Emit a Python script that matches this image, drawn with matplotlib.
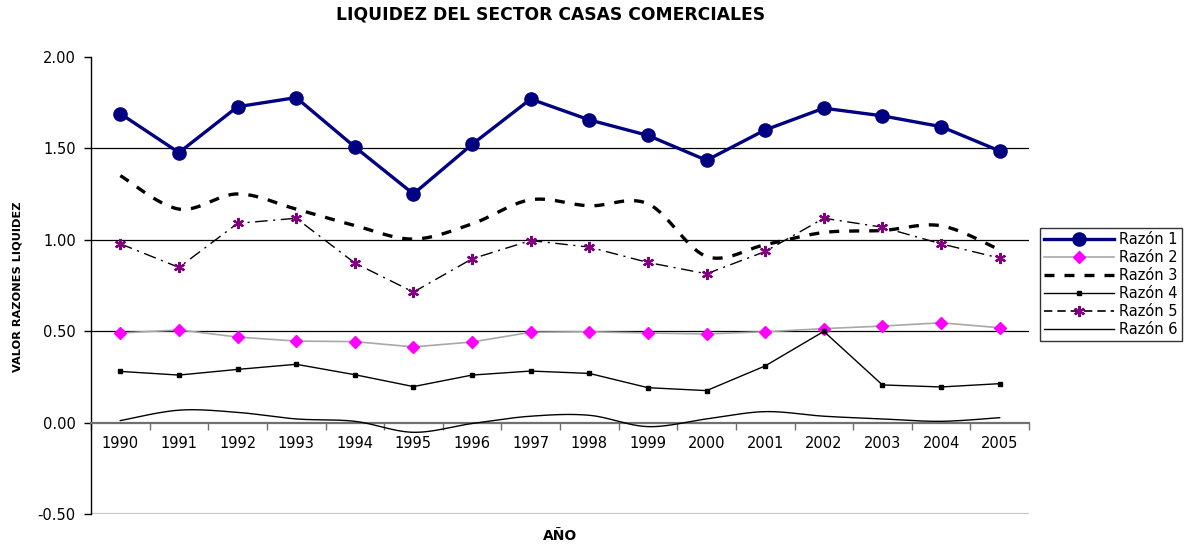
import numpy as np
import matplotlib
matplotlib.use("Agg")
import matplotlib.pyplot as plt

plt.rcParams['font.family'] = ['DejaVu Sans']

years = ["1990", "1991", "1992", "1993", "1994", "1995", "1996", "1997",
         "1998", "1999", "2000", "2001", "2002", "2003", "2004", "2005"]
razon1 = [1.69, 1.477, 1.728, 1.778, 1.508, 1.251, 1.522, 1.770,
          1.656, 1.571, 1.435, 1.601, 1.720, 1.678, 1.619, 1.486]
razon2 = [0.490, 0.507, 0.468, 0.446, 0.443, 0.414, 0.441, 0.494,
          0.497, 0.490, 0.485, 0.497, 0.514, 0.528, 0.546, 0.519]
razon3 = [1.351, 1.168, 1.251, 1.168, 1.078, 1.004, 1.087, 1.219,
          1.186, 1.197, 0.909, 0.973, 1.040, 1.051, 1.077, 0.945]
razon4 = [0.280, 0.260, 0.291, 0.319, 0.262, 0.197, 0.260, 0.282,
          0.269, 0.191, 0.175, 0.310, 0.499, 0.206, 0.195, 0.213]
razon5 = [0.978, 0.849, 1.090, 1.118, 0.873, 0.714, 0.896, 0.996,
          0.960, 0.876, 0.814, 0.936, 1.118, 1.069, 0.978, 0.900]
razon6 = [0.011, 0.068, 0.056, 0.020, 0.007, -0.053, -0.005, 0.035,
          0.040, -0.022, 0.020, 0.060, 0.035, 0.020, 0.007, 0.027]
series_names = ["Razón 1", "Razón 2", "Razón 3", "Razón 4", "Razón 5", "Razón 6"]


def smooth(xs, ys, n=30):
    xs = np.asarray(xs, float)
    ys = np.asarray(ys, float)
    P = np.column_stack([xs, ys])
    out = []
    for i in range(len(P) - 1):
        p0 = P[i - 1] if i > 0 else P[i]
        p1 = P[i]
        p2 = P[i + 1]
        p3 = P[i + 2] if i + 2 < len(P) else P[i + 1]
        c1 = p1 + (p2 - p0) / 6.0
        c2 = p2 - (p3 - p1) / 6.0
        t = np.linspace(0, 1, n)[:, None]
        seg = ((1 - t) ** 3) * p1 + 3 * ((1 - t) ** 2) * t * c1 + 3 * (1 - t) * t ** 2 * c2 + t ** 3 * p2
        out.append(seg if i == 0 else seg[1:])
    out = np.vstack(out)
    return out[:, 0], out[:, 1]


fig = plt.figure(figsize=(11.85, 5.46), dpi=100)
ax = fig.add_axes([91 / 1185, 1 - 514 / 546, (1029 - 91) / 1185, (514 - 57) / 546])

x = np.arange(len(years))

for yv in [0.5, 1.0, 1.5]:
    ax.axhline(yv, color='black', lw=0.9, zorder=1)
ax.axhline(-0.5, color='#c8c8c8', lw=1.6, zorder=1)

# Razón 2
l2, = ax.plot(x, razon2, color='#a8a8a8', lw=1.2, marker='D', markersize=6.5,
              markerfacecolor='#ff00ff', markeredgecolor='#ff00ff', zorder=3, label=series_names[1])
# Razón 3 (smoothed dashed)
sx, sy = smooth(x, razon3)
ax.plot(sx, sy, color='black', lw=2.4, linestyle=(0, (3, 3)), zorder=3)
l3 = plt.Line2D([], [], color='black', lw=2.4, linestyle=(0, (3, 3)), label=series_names[2])
# Razón 4
l4, = ax.plot(x, razon4, color='black', lw=1.0, marker='s', markersize=3.5, zorder=3,
              label=series_names[3])
# Razón 5
ax.plot(x, razon5, color='black', lw=1.0, linestyle=(0, (9, 4, 1.5, 4)), zorder=3)
ax.plot(x, razon5, linestyle='none', marker=(6, 2, 0), markersize=8, markeredgecolor='#800080',
        markeredgewidth=1.6, zorder=4)
l5 = plt.Line2D([], [], color='black', lw=1.2, linestyle=(0, (5, 3)), marker=(6, 2, 0),
                markersize=8, markeredgecolor='#800080', markeredgewidth=1.6, label=series_names[4])
# Razón 6 (smoothed)
sx6, sy6 = smooth(x, razon6)
ax.plot(sx6, sy6, color='black', lw=1.0, zorder=3)
l6 = plt.Line2D([], [], color='black', lw=1.0, label=series_names[5])
# Razón 1
l1, = ax.plot(x, razon1, color='#000080', lw=2.4, marker='o', markersize=9.5,
              markerfacecolor='#000080', markeredgecolor='#000080', zorder=5, label=series_names[0])

ax.set_xlim(-0.5, len(years) - 0.5)
ax.set_ylim(-0.5, 2.0)
ax.set_yticks([-0.5, 0, 0.5, 1.0, 1.5, 2.0])
ax.set_yticklabels(["-0.50", "0.00", "0.50", "1.00", "1.50", "2.00"], fontsize=10.5)
ax.tick_params(axis='y', direction='out', length=5, width=1, pad=6, color='black')

for s in ['top', 'right']:
    ax.spines[s].set_visible(False)
ax.spines['left'].set_color('black')
ax.spines['left'].set_linewidth(1.0)
ax.spines['bottom'].set_position(('data', 0))
ax.spines['bottom'].set_color('#707070')
ax.spines['bottom'].set_linewidth(1.6)
ax.set_xticks(x)
ax.set_xticklabels(years, fontsize=10.5)
ax.set_xticks(np.arange(-0.5, len(years)), minor=True)
ax.tick_params(axis='x', which='major', length=0, pad=10)
ax.tick_params(axis='x', which='minor', length=5, width=1, color='#707070', direction='out')

fig.text(551 / 1185, 1 - 14 / 546, "LIQUIDEZ DEL SECTOR CASAS COMERCIALES", ha='center', va='center',
         fontsize=12.3, fontweight='bold')
fig.text(18 / 1185, 1 - 287 / 546, "VALOR RAZONES LIQUIDEZ", ha='center', va='center', rotation=90,
         fontsize=8.2, fontweight='bold')
fig.text(560 / 1185, 1 - 536 / 546, "AÑO", ha='center', va='center', fontsize=10, fontweight='bold')

leg = fig.legend(handles=[l1, l2, l3, l4, l5, l6], loc='upper left',
                 bbox_to_anchor=(1040 / 1185, 1 - 228 / 546), bbox_transform=fig.transFigure,
                 borderaxespad=0, fontsize=10.5, frameon=True, fancybox=False, handlelength=4.8,
                 labelspacing=0.2, borderpad=0.3, handletextpad=0.3)
leg.get_frame().set_edgecolor('black')
leg.get_frame().set_linewidth(1.0)

fig.savefig("out.png", dpi=100)
